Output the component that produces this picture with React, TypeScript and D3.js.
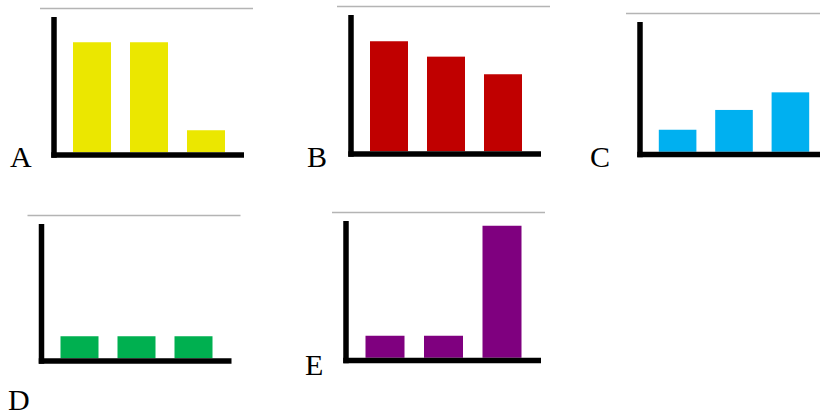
import { useMemo } from "react";
import * as d3 from "d3";

// 数据
const panelNames = ["A", "B", "C", "D", "E"];
const categories = ["1", "2", "3"];
const valuesA = [5, 5, 1];
const valuesB = [5, 4.3, 3.5];
const valuesC = [1, 1.9, 2.7];
const valuesD = [1, 1, 1];
const valuesE = [1, 1, 6];
const panelColors = ["#ebe700", "#c00000", "#00b0f0", "#00b050", "#7f007f"];

const seriesByPanel = [valuesA, valuesB, valuesC, valuesD, valuesE];

// 布局: 坐标轴拐角 (x0, y0), 轴高, 标签位置
const LAYOUT = [
  { x0: 54, y0: 155, axisH: 138, bandW: 190, lx: 10, ly: 167 },
  { x0: 351, y0: 154, axisH: 139, bandW: 190, lx: 307, ly: 167 },
  { x0: 640, y0: 154.5, axisH: 132.5, bandW: 188, lx: 590, ly: 167 },
  { x0: 41.5, y0: 361, axisH: 137, bandW: 190, lx: 8, ly: 410 },
  { x0: 346, y0: 360.5, axisH: 139.5, bandW: 195, lx: 305, ly: 375 },
];

const AXIS_W = 5.5;
const UNIT_MAX = 6;
const UNIT_PX = 132;
const SERIF = "Liberation Serif, Times New Roman, Times, serif";

function Panel({ idx }: { idx: number }) {
  const lay = LAYOUT[idx];
  const values = seriesByPanel[idx];
  const color = panelColors[idx];

  const x = useMemo(
    () =>
      d3.scaleBand<string>()
        .domain(categories)
        .range([lay.x0, lay.x0 + lay.bandW])
        .paddingInner(1 / 3)
        .paddingOuter(1 / 3),
    [lay]
  );
  const base = lay.y0 - AXIS_W / 2;
  const y = useMemo(
    () => d3.scaleLinear().domain([0, UNIT_MAX]).range([base, base - UNIT_PX]),
    [base]
  );

  const top = lay.y0 - lay.axisH;

  return (
    <g>
      {/* 顶部灰线 */}
      <line
        x1={lay.x0 - 14}
        x2={Math.min(lay.x0 + 199, 830)}
        y1={top - 8.5}
        y2={top - 8.5}
        stroke="#b4b4b4"
        strokeWidth={1.5}
      />
      {categories.map((c, i) => (
        <rect
          key={c}
          x={x(c)}
          width={x.bandwidth()}
          y={y(values[i])}
          height={base - y(values[i])}
          fill={color}
        />
      ))}
      {/* 坐标轴 */}
      <line x1={lay.x0} x2={lay.x0} y1={top} y2={lay.y0 + AXIS_W / 2} stroke="#000" strokeWidth={AXIS_W} />
      <line x1={lay.x0 - AXIS_W / 2} x2={lay.x0 + lay.bandW} y1={lay.y0} y2={lay.y0} stroke="#000" strokeWidth={AXIS_W} />
      <text
        x={lay.lx}
        y={lay.ly}
        style={{ fontFamily: SERIF }}
        fontSize={30}
        fill="#000"
      >
        {panelNames[idx]}
      </text>
    </g>
  );
}

export default function App() {
  return (
    <svg
      width={820}
      height={416}
      style={{ position: "absolute", left: 0, top: 0, background: "#fff" }}
    >
      {panelNames.map((_, i) => (
        <Panel key={i} idx={i} />
      ))}
    </svg>
  );
}
